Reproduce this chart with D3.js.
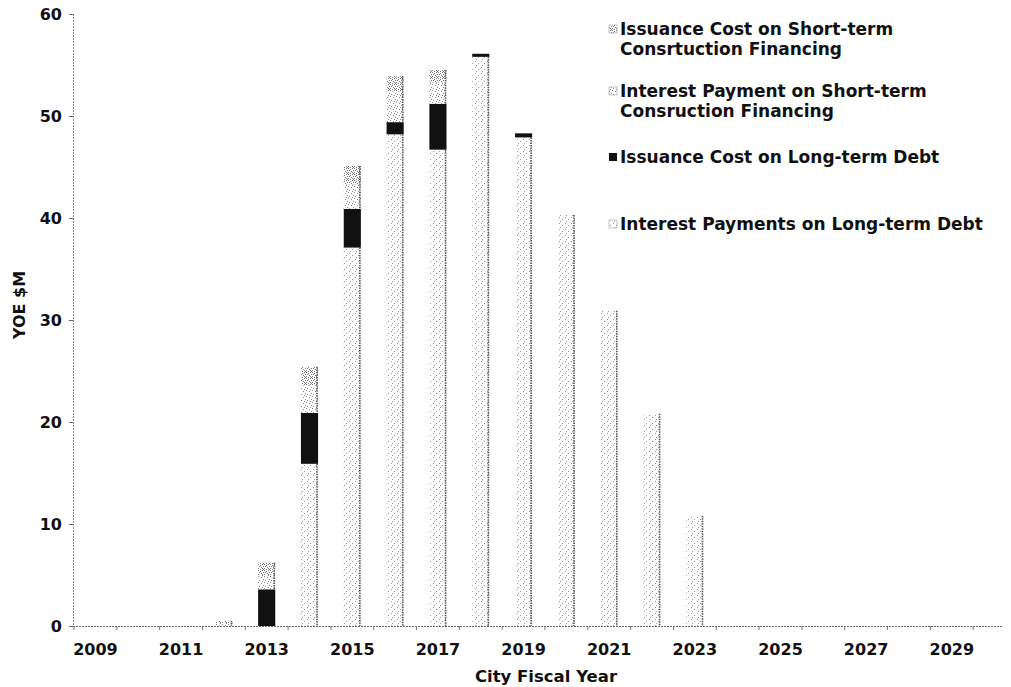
<!DOCTYPE html>
<html>
<head>
<meta charset="utf-8">
<script src="https://cdn.jsdelivr.net/npm/d3@7/dist/d3.min.js"></script>
<style>
  html, body { margin: 0; padding: 0; background: #fff; }
  svg { display: block; }
  text { font-family: "DejaVu Sans", Verdana, sans-serif; font-weight: bold; fill: #111; }
</style>
</head>
<body>
<svg id="chart" width="1011" height="687"></svg>
<script>
// ---- data ----
const years = [2009,2010,2011,2012,2013,2014,2015,2016,2017,2018,2019,2020,2021,2022,2023,2024,2025,2026,2027,2028,2029,2030];
const interestLT = [0,0,0,0,0,15.9,37.1,48.2,46.7,55.8,47.9,40.3,30.9,20.8,10.8,0,0,0,0,0,0,0];
const issuanceLT = [0,0,0,0,3.6,5.0,3.8,1.2,4.5,0.3,0.4,0,0,0,0,0,0,0,0,0,0,0];
const interestST = [0,0,0,0.3,1.4,2.7,2.4,3.0,2.1,0,0,0,0,0,0,0,0,0,0,0,0,0];
const issuanceST = [0,0,0,0.2,1.2,1.8,1.8,1.5,1.2,0,0,0,0,0,0,0,0,0,0,0,0,0];
const yTicks = [0,10,20,30,40,50,60];
const xTickLabels = [2009,2011,2013,2015,2017,2019,2021,2023,2025,2027,2029];
const seriesKeys = ["interestLT","issuanceLT","interestST","issuanceST"];
const legendLabels = [
  ["Issuance Cost on Short-term","Consrtuction Financing"],
  ["Interest Payment on Short-term","Consruction Financing"],
  ["Issuance Cost on Long-term Debt"],
  ["Interest Payments on Long-term Debt"]
];
const legendKeys = ["issuanceST","interestST","issuanceLT","interestLT"];

const rows = years.map((yr,i)=>({year:yr, interestLT:interestLT[i], issuanceLT:issuanceLT[i], interestST:interestST[i], issuanceST:issuanceST[i]}));

const svg = d3.select("#chart");

// ---- patterns ----
const defs = svg.append("defs");
function speckle(id, dots, color) {
  const p = defs.append("pattern").attr("id", id).attr("patternUnits","userSpaceOnUse")
    .attr("width", 6).attr("height", 6);
  p.append("rect").attr("width",6).attr("height",6).attr("fill","#fff");
  dots.forEach(([dx,dy]) => p.append("rect").attr("x",dx).attr("y",dy).attr("width",1).attr("height",1).attr("fill",color));
}
speckle("pLT", [[1,1],[4,3],[2,5]], "#9a9a9a");
speckle("pSTi", [[0,0],[3,1],[5,3],[1,4],[4,5]], "#8a8a8a");
speckle("pSTs", [[0,0],[2,1],[4,0],[1,2],[3,3],[5,2],[0,4],[2,5],[4,4],[5,5]], "#777");
const fills = {interestLT:"url(#pLT)", issuanceLT:"#111", interestST:"url(#pSTi)", issuanceST:"url(#pSTs)"};

// ---- scales ----
const x = d3.scaleBand().domain(years).range([74, 1016]).paddingInner(0.6).paddingOuter(0.3);
const y = d3.scaleLinear().domain([0,60]).range([626, 14]);

// ---- axes ----
const yAxis = svg.append("g").attr("transform","translate(73,0)")
  .call(d3.axisLeft(y).tickValues(yTicks).tickSize(4).tickPadding(7));
yAxis.select(".domain").attr("stroke","#888").attr("stroke-dasharray","2,1");
yAxis.selectAll(".tick line").attr("stroke","#666");
yAxis.selectAll(".tick text").attr("font-size","16px").attr("fill","#111").style("font-family","DejaVu Sans").style("font-weight","bold");

const xAxis = svg.append("g").attr("transform","translate(0,626)")
  .call(d3.axisBottom(x).tickValues(xTickLabels).tickSize(0).tickPadding(18));
xAxis.select(".domain").remove();
xAxis.selectAll(".tick text").attr("font-size","16px").attr("fill","#111").style("font-family","DejaVu Sans").style("font-weight","bold");

// bottom axis line
svg.append("line").attr("x1",73).attr("x2",1003).attr("y1",626.5).attr("y2",626.5)
  .attr("stroke","#666").attr("stroke-width",1.2).attr("stroke-dasharray","2,1");
// ticks between categories
svg.append("g").selectAll("line").data(years).join("line")
  .attr("x1", d => x(d) - x.step()*x.paddingInner()/2)
  .attr("x2", d => x(d) - x.step()*x.paddingInner()/2)
  .attr("y1", 626).attr("y2", 630).attr("stroke","#777");

// ---- stacked bars ----
const stacked = d3.stack().keys(seriesKeys)(rows);
const bw = x.bandwidth();
const gBars = svg.append("g");
stacked.forEach(s => {
  const key = s.key;
  const g = gBars.append("g");
  g.selectAll("rect").data(s.filter(d => d[1] - d[0] > 0)).join("rect")
    .attr("x", d => x(d.data.year))
    .attr("width", bw)
    .attr("y", d => y(d[1]))
    .attr("height", d => y(d[0]) - y(d[1]))
    .attr("fill", fills[key]);
  if (key !== "issuanceLT") {
    g.selectAll("line").data(s.filter(d => d[1] - d[0] > 0)).join("line")
      .attr("x1", d => x(d.data.year) + bw - 1)
      .attr("x2", d => x(d.data.year) + bw - 1)
      .attr("y1", d => y(d[1]))
      .attr("y2", d => y(d[0]))
      .attr("stroke", "#555").attr("stroke-width", 1.6).attr("stroke-dasharray","1.5,1");
  }
});

// ---- axis titles ----
svg.append("text").attr("transform","translate(25,305) rotate(-90)")
  .attr("text-anchor","middle").attr("font-size","16px").text("YOE $M");
svg.append("text").attr("x",546).attr("y",682)
  .attr("text-anchor","middle").attr("font-size","16.5px").text("City Fiscal Year");

// ---- legend ----
const legendY = [35, 97, 163, 230];
const lg = svg.append("g");
legendKeys.forEach((k,i) => {
  const base = legendY[i];
  lg.append("rect").attr("x",609).attr("y",base-10).attr("width",8).attr("height",8)
    .attr("fill", fills[k]).attr("stroke", k==="issuanceLT" ? "none" : "#999").attr("stroke-width",0.6);
  legendLabels[i].forEach((t,j) => {
    lg.append("text").attr("x",620).attr("y",base + j*20).attr("font-size","17px").text(t);
  });
});
</script>
</body>
</html>
